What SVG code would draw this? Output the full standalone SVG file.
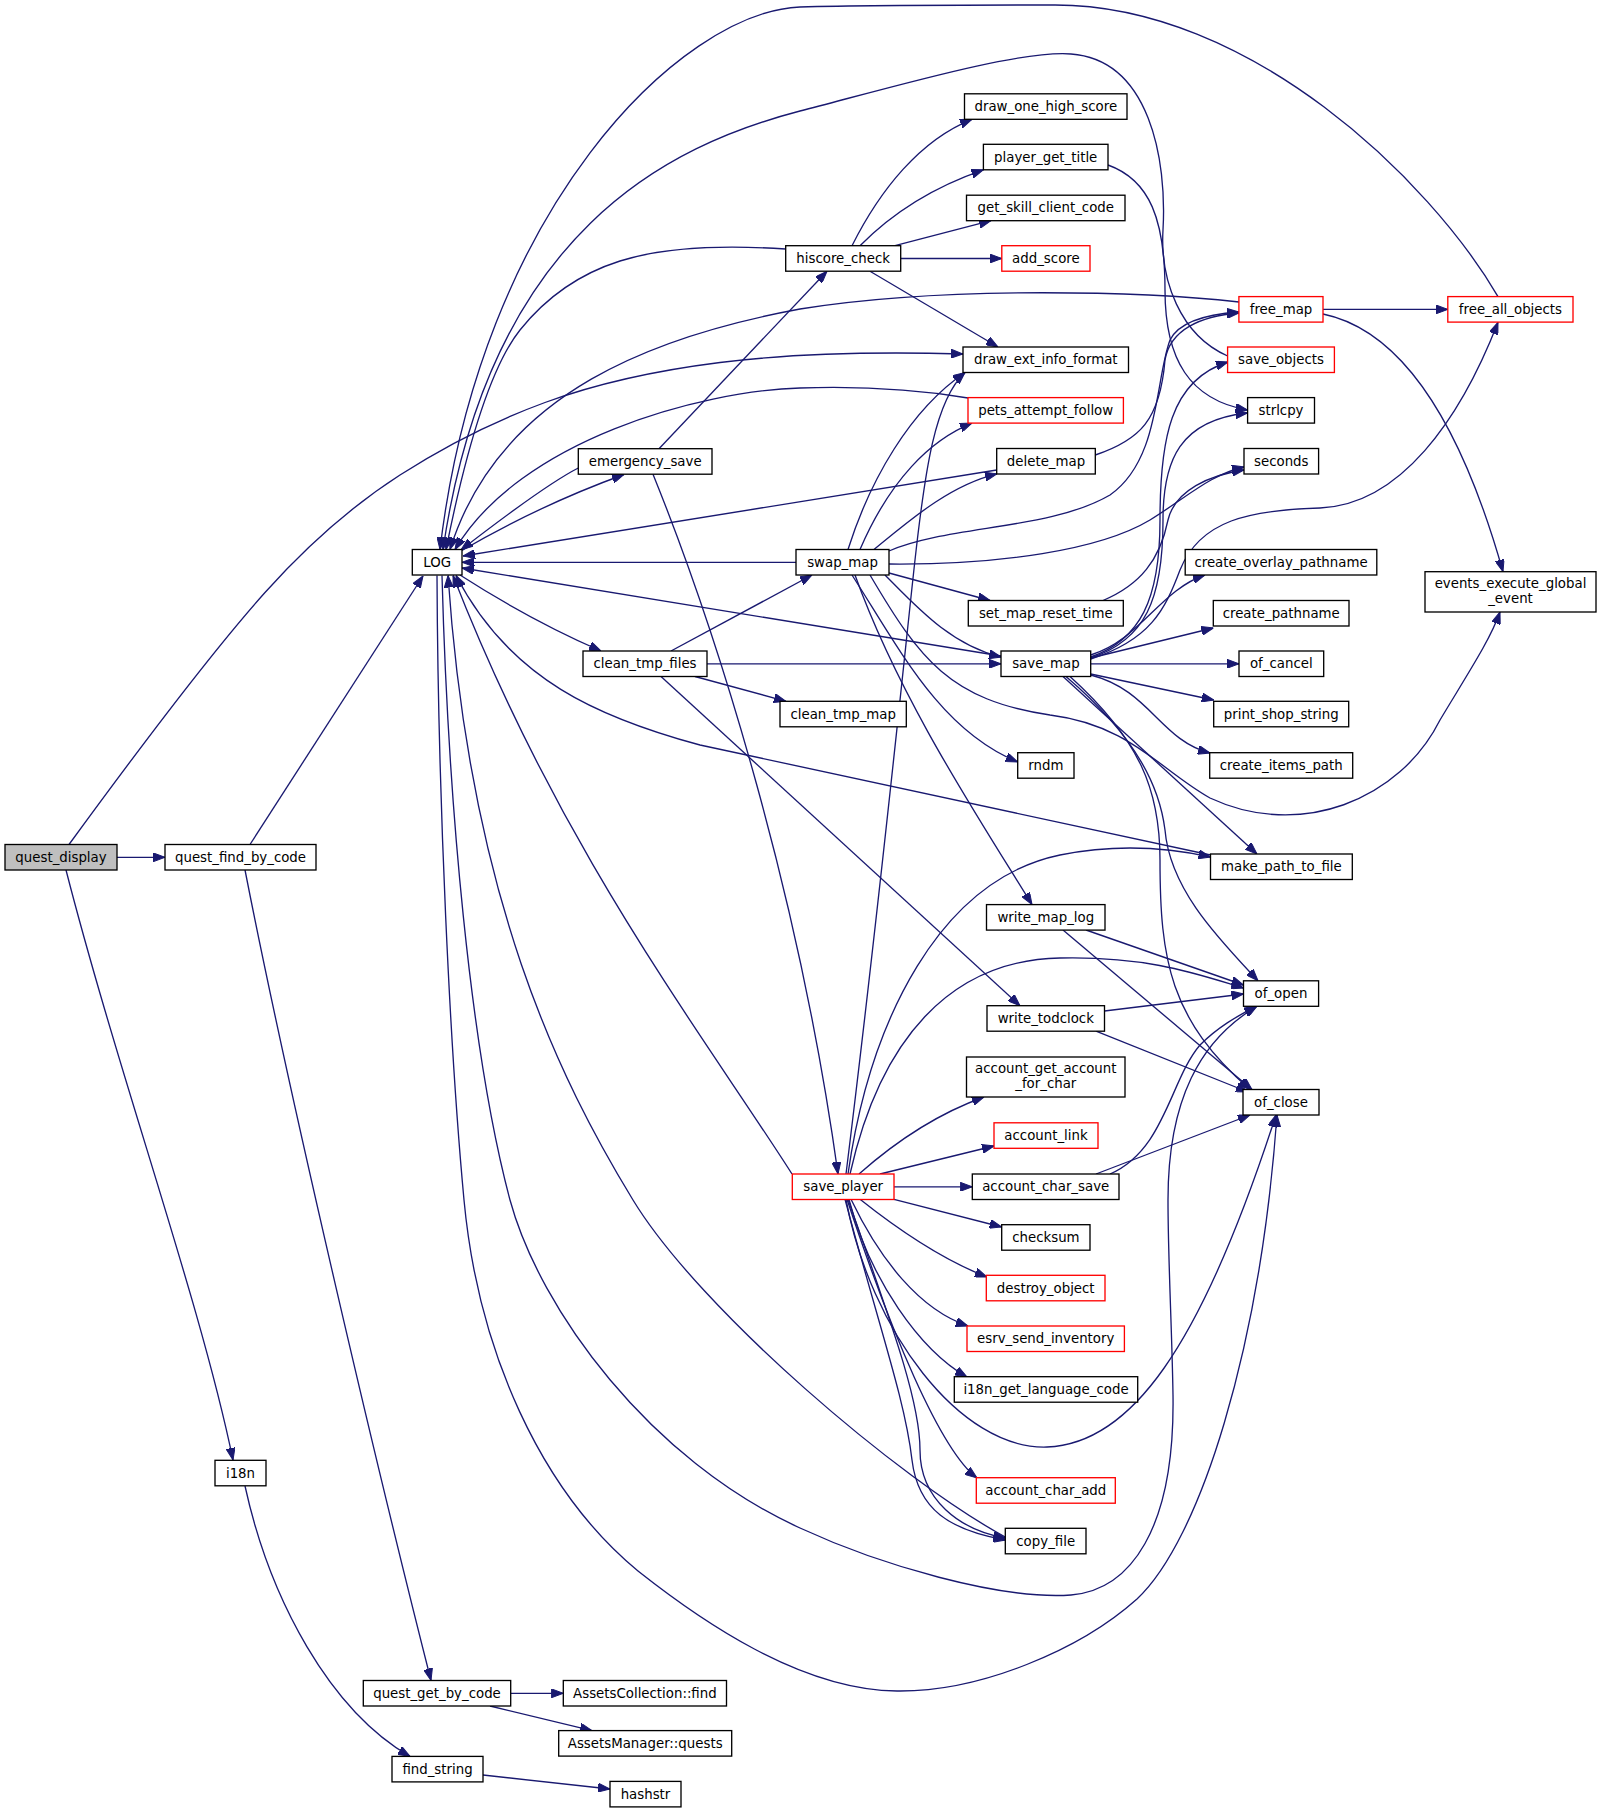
<svg xmlns="http://www.w3.org/2000/svg" width="1601" height="1813" viewBox="0 0 1601 1813">
<style>
.n rect{fill:#fff;stroke:#000;stroke-width:1.33}
.n.r rect{stroke:#f00}
.n.root rect{fill:#bfbfbf}
.n text{font-family:"DejaVu Sans","Liberation Sans",sans-serif;font-size:13.33px;text-anchor:middle;fill:#000}
#edges path{fill:none;stroke:#191970;stroke-width:1.33;marker-end:url(#ah)}
</style>
<defs>
<marker id="ah" markerWidth="12" markerHeight="9" refX="12" refY="4.5" orient="auto" markerUnits="userSpaceOnUse">
<path d="M0,0 L12,4.5 L0,9 z" fill="#191970" stroke="#191970" stroke-width="1"/>
</marker>
</defs>
<rect x="0" y="0" width="1601" height="1813" fill="#fff"/>
<g id="edges">
<path d="M117,857.3 L165,857.3"/>
<path d="M69,844.5 Q200,665 265,592.5 Q330,520 400,475 Q470,430 545,402.5 Q620,375 720,362.5 Q820,350 963,354"/>
<path d="M66,870 C120,1080 200,1300 233,1460"/>
<path d="M250,844.5 L423,576"/>
<path d="M245,870 C290,1100 380,1480 431,1680.5"/>
<path d="M245,1486 C270,1600 330,1710 410,1756.4"/>
<path d="M510.7,1693.3 L563.3,1693.3"/>
<path d="M490,1706 L592,1730.6"/>
<path d="M483,1775 L610,1789"/>
<path d="M461,551 Q540,505 624,474.5"/>
<path d="M578.3,468 Q545,485 461,550"/>
<path d="M460,575 Q530,620 601,651"/>
<path d="M785.7,249 Q680,242 620,261 Q560,280 520,330 Q480,380 446,549.5"/>
<path d="M1498,296.6 C1430,180 1250,5 1055,5 C950,5 870,5 800,7 C680,12 480,210 440,549.5"/>
<path d="M1227.6,356 C1180,335 1160,280 1163,230 C1167,160 1150,60 1071,54 C1020,50 900,85 800,111 C670,145 490,230 443,549.5"/>
<path d="M1239,302 C1150,292 950,285 800,309 C660,335 500,390 450,549.5"/>
<path d="M968,398 C920,390 860,386 800,388 C700,391 520,440 455,549.5"/>
<path d="M996.7,470 L463,556"/>
<path d="M796,562.3 L462,562.3"/>
<path d="M1001,656 L462,568"/>
<path d="M1210.5,855 L700,745 C600,718 510,680 456,575.5"/>
<path d="M792,1174 C700,1030 560,850 453,575.5"/>
<path d="M1005.3,1537 C900,1480 700,1310 633,1200 C560,1080 470,900 448,575.5"/>
<path d="M442,575.5 C448,800 470,1050 510,1200 C540,1310 650,1460 800,1528 C880,1565 1000,1600 1071,1595 C1130,1590 1175,1530 1173,1395 C1172,1330 1168,1260 1168,1200 C1168,1100 1200,1040 1257,1006.3"/>
<path d="M437,575.5 C438,800 450,1050 464,1200 C478,1350 540,1490 638,1571 C700,1620 800,1690 897,1691 C980,1692 1080,1650 1137,1599 C1200,1540 1260,1350 1277,1115"/>
<path d="M852,245.7 C880,190 920,140 972,119.3"/>
<path d="M860,245.7 Q910,195 983.4,169.8"/>
<path d="M895,245.7 L991,220.7"/>
<path d="M900.7,258.5 L1001.8,258.5"/>
<path d="M870,271.2 L998,347"/>
<path d="M659,448.7 L827,271.2"/>
<path d="M653,474.2 C720,640 800,900 838,1174"/>
<path d="M671,651 L812,575"/>
<path d="M707,663.8 L1001,663.8"/>
<path d="M695,676.5 L786,701.3"/>
<path d="M661,676.5 L1020,1005.7"/>
<path d="M848,549.5 C870,480 910,410 965,372.5"/>
<path d="M860,549.5 C890,480 930,440 972,423.1"/>
<path d="M874,549.5 C910,520 950,485 997,473.8"/>
<path d="M889,551 C950,525 1050,530 1110,495 C1160,460 1155,380 1170,340 C1180,320 1210,314 1239,312"/>
<path d="M1095.3,455 C1140,440 1160,420 1165,360 C1170,330 1200,316 1239,313"/>
<path d="M889,564 C1000,565 1100,550 1150,520 C1190,495 1210,475 1244,467"/>
<path d="M1103,600.5 C1140,585 1160,560 1168,520 C1175,490 1210,475 1244,470"/>
<path d="M889,573 L990,600.5"/>
<path d="M885,575 C915,605 950,645 1001,657"/>
<path d="M852,575 C900,650 940,730 1017.7,762"/>
<path d="M855,575 C900,700 980,820 1032,904.6"/>
<path d="M870,575 C920,660 950,700 1050,715 C1130,725 1160,770 1210,798 C1300,840 1400,800 1440,720 C1470,670 1490,640 1500,612"/>
<path d="M1323,309.4 L1447.8,309.4"/>
<path d="M1323,314 C1400,330 1460,420 1503,571.7"/>
<path d="M1090.7,655 C1140,640 1160,590 1205,575"/>
<path d="M1090.7,658 L1213.3,628"/>
<path d="M1090.7,663.8 L1239,663.8"/>
<path d="M1090.7,674 L1213.7,700"/>
<path d="M1090.7,675 C1150,690 1160,740 1210,753"/>
<path d="M1063,676.5 L1257,854"/>
<path d="M1066,676.5 C1140,740 1160,790 1165,830 C1170,890 1220,940 1258,980.8"/>
<path d="M1070,676.5 C1140,740 1160,790 1160,860 C1160,960 1170,1020 1250,1089.5"/>
<path d="M1090.7,657 C1140,640 1160,600 1160,520 C1160,440 1170,380 1228,362"/>
<path d="M1090.7,658 C1145,640 1163,600 1163,520 C1163,460 1180,420 1247.6,413"/>
<path d="M1090.7,659 C1150,640 1165,610 1180,570 C1200,520 1250,510 1320,508 C1400,505 1460,420 1498,322.3"/>
<path d="M1086,930 L1243.5,985"/>
<path d="M1063,930 L1252,1089.5"/>
<path d="M1104.5,1011 L1243.5,994"/>
<path d="M1096,1031.2 L1248,1092"/>
<path d="M1110,1174 C1165,1150 1170,1080 1200,1045 C1220,1025 1240,1015 1256,1006.3"/>
<path d="M1096,1174 L1250,1115"/>
<path d="M894,1186.8 L972.3,1186.8"/>
<path d="M894,1199.3 L1001.7,1227"/>
<path d="M860,1199.3 Q930,1255 987,1277"/>
<path d="M851,1199.3 C880,1260 920,1310 968,1326"/>
<path d="M849,1199.3 C870,1280 920,1350 967,1377"/>
<path d="M847,1199.3 C890,1330 940,1450 977,1478"/>
<path d="M848,1199.3 C890,1320 920,1400 920,1450 C920,1500 960,1530 1005.3,1538"/>
<path d="M845,1199.3 C880,1330 905,1400 912,1460 C918,1510 950,1530 1005.3,1540"/>
<path d="M846,1199.3 C870,1330 960,1450 1047,1447 C1130,1444 1200,1350 1276,1115"/>
<path d="M846,1174 C880,900 905,650 915,560 C925,470 935,400 965,372.5"/>
<path d="M850,1174 C880,1040 950,960 1060,958 C1150,956 1200,975 1243.5,988"/>
<path d="M848,1174 C870,1020 940,880 1060,855 C1120,843 1170,848 1210.5,857"/>
<path d="M859,1174 Q920,1120 984,1097"/>
<path d="M880,1174 L994,1146"/>
<path d="M1108,165 C1150,180 1165,220 1165,290 C1165,360 1190,400 1247.6,410"/>
</g>
<g id="n_quest_display" class="n root"><rect x="5" y="844.5" width="112" height="25.5"/><text x="61" y="861.7">quest_display</text></g>
<g id="n_quest_find_by_code" class="n"><rect x="165" y="844.5" width="151" height="25.5"/><text x="240.5" y="861.7">quest_find_by_code</text></g>
<g id="n_i18n" class="n"><rect x="215" y="1460.3" width="51" height="25.5"/><text x="240.5" y="1477.5">i18n</text></g>
<g id="n_quest_get_by_code" class="n"><rect x="363.3" y="1680.5" width="147.4" height="25.5"/><text x="437" y="1697.7">quest_get_by_code</text></g>
<g id="n_find_string" class="n"><rect x="392" y="1756.4" width="91" height="25.5"/><text x="437.5" y="1773.6">find_string</text></g>
<g id="n_assetscollection_find" class="n"><rect x="563.3" y="1680.5" width="163.2" height="25.5"/><text x="644.9" y="1697.7">AssetsCollection::find</text></g>
<g id="n_assetsmanager_quests" class="n"><rect x="558.7" y="1730.6" width="173" height="25.5"/><text x="645.2" y="1747.8">AssetsManager::quests</text></g>
<g id="n_hashstr" class="n"><rect x="610" y="1781.4" width="71" height="25.5"/><text x="645.5" y="1798.6">hashstr</text></g>
<g id="n_log" class="n"><rect x="412.3" y="549.5" width="49.7" height="25.5"/><text x="437.2" y="566.7">LOG</text></g>
<g id="n_emergency_save" class="n"><rect x="578.3" y="448.7" width="133.7" height="25.5"/><text x="645.2" y="465.9">emergency_save</text></g>
<g id="n_clean_tmp_files" class="n"><rect x="583" y="651" width="124" height="25.5"/><text x="645" y="668.2">clean_tmp_files</text></g>
<g id="n_hiscore_check" class="n"><rect x="785.7" y="245.7" width="115" height="25.5"/><text x="843.2" y="262.9">hiscore_check</text></g>
<g id="n_swap_map" class="n"><rect x="796" y="549.5" width="93" height="25.5"/><text x="842.5" y="566.7">swap_map</text></g>
<g id="n_save_player" class="n r"><rect x="792.3" y="1174" width="101.7" height="25.5"/><text x="843.2" y="1191.2">save_player</text></g>
<g id="n_clean_tmp_map" class="n"><rect x="780" y="701.3" width="126.3" height="25.5"/><text x="843.2" y="718.5">clean_tmp_map</text></g>
<g id="n_draw_one_high_score" class="n"><rect x="964.5" y="93.8" width="162.5" height="25.5"/><text x="1045.8" y="111">draw_one_high_score</text></g>
<g id="n_player_get_title" class="n"><rect x="983.4" y="144.3" width="124.6" height="25.5"/><text x="1045.7" y="161.5">player_get_title</text></g>
<g id="n_get_skill_client_code" class="n"><rect x="966.5" y="195.2" width="158.5" height="25.5"/><text x="1045.8" y="212.4">get_skill_client_code</text></g>
<g id="n_add_score" class="n r"><rect x="1001.8" y="245.7" width="88.2" height="25.5"/><text x="1045.9" y="262.9">add_score</text></g>
<g id="n_draw_ext_info_format" class="n"><rect x="963" y="347" width="165.5" height="25.5"/><text x="1045.8" y="364.2">draw_ext_info_format</text></g>
<g id="n_pets_attempt_follow" class="n r"><rect x="968" y="397.6" width="155.4" height="25.5"/><text x="1045.7" y="414.8">pets_attempt_follow</text></g>
<g id="n_delete_map" class="n"><rect x="996.7" y="448.5" width="98.6" height="25.5"/><text x="1046" y="465.7">delete_map</text></g>
<g id="n_set_map_reset_time" class="n"><rect x="968.3" y="600.5" width="155" height="25.5"/><text x="1045.8" y="617.7">set_map_reset_time</text></g>
<g id="n_save_map" class="n"><rect x="1001" y="651" width="89.7" height="25.5"/><text x="1045.9" y="668.2">save_map</text></g>
<g id="n_rndm" class="n"><rect x="1017.7" y="752.7" width="56.3" height="25.5"/><text x="1045.9" y="769.9">rndm</text></g>
<g id="n_write_map_log" class="n"><rect x="986.5" y="904.6" width="118.5" height="25.5"/><text x="1045.8" y="921.8">write_map_log</text></g>
<g id="n_write_todclock" class="n"><rect x="987" y="1005.7" width="117.5" height="25.5"/><text x="1045.8" y="1022.9">write_todclock</text></g>
<g id="n_account_get_account_for_char" class="n"><rect x="966.5" y="1057" width="158.5" height="40"/><text x="1045.8" y="1073">account_get_account</text><text x="1045.8" y="1088">_for_char</text></g>
<g id="n_account_link" class="n r"><rect x="994" y="1122.8" width="104" height="25.5"/><text x="1046" y="1140">account_link</text></g>
<g id="n_account_char_save" class="n"><rect x="972.3" y="1174" width="146.7" height="25.5"/><text x="1045.7" y="1191.2">account_char_save</text></g>
<g id="n_checksum" class="n"><rect x="1001.7" y="1224.7" width="88.3" height="25.5"/><text x="1045.9" y="1241.9">checksum</text></g>
<g id="n_destroy_object" class="n r"><rect x="986.3" y="1275.3" width="118.7" height="25.5"/><text x="1045.7" y="1292.5">destroy_object</text></g>
<g id="n_esrv_send_inventory" class="n r"><rect x="967" y="1326" width="157.4" height="25.5"/><text x="1045.7" y="1343.2">esrv_send_inventory</text></g>
<g id="n_i18n_get_language_code" class="n"><rect x="954.3" y="1376.7" width="183.4" height="25.5"/><text x="1046" y="1393.9">i18n_get_language_code</text></g>
<g id="n_account_char_add" class="n r"><rect x="976.3" y="1477.7" width="139" height="25.5"/><text x="1045.8" y="1494.9">account_char_add</text></g>
<g id="n_copy_file" class="n"><rect x="1005.3" y="1528.3" width="80.7" height="25.5"/><text x="1045.7" y="1545.5">copy_file</text></g>
<g id="n_free_map" class="n r"><rect x="1238.9" y="296.6" width="84.1" height="25.5"/><text x="1281" y="313.8">free_map</text></g>
<g id="n_save_objects" class="n r"><rect x="1227.6" y="347" width="106.8" height="25.5"/><text x="1281" y="364.2">save_objects</text></g>
<g id="n_strlcpy" class="n"><rect x="1247.6" y="397.6" width="66.9" height="25.5"/><text x="1281" y="414.8">strlcpy</text></g>
<g id="n_seconds" class="n"><rect x="1244" y="448.5" width="74.6" height="25.5"/><text x="1281.3" y="465.7">seconds</text></g>
<g id="n_create_overlay_pathname" class="n"><rect x="1185.2" y="549.5" width="191.6" height="25.5"/><text x="1281" y="566.7">create_overlay_pathname</text></g>
<g id="n_create_pathname" class="n"><rect x="1213.3" y="600.5" width="135.7" height="25.5"/><text x="1281.2" y="617.7">create_pathname</text></g>
<g id="n_of_cancel" class="n"><rect x="1239" y="651" width="84.7" height="25.5"/><text x="1281.3" y="668.2">of_cancel</text></g>
<g id="n_print_shop_string" class="n"><rect x="1213.7" y="701.3" width="135" height="25.5"/><text x="1281.2" y="718.5">print_shop_string</text></g>
<g id="n_create_items_path" class="n"><rect x="1209.7" y="752.7" width="143" height="25.5"/><text x="1281.2" y="769.9">create_items_path</text></g>
<g id="n_make_path_to_file" class="n"><rect x="1210.5" y="854" width="141.8" height="25.5"/><text x="1281.4" y="871.2">make_path_to_file</text></g>
<g id="n_of_open" class="n"><rect x="1243.5" y="980.8" width="75.1" height="25.5"/><text x="1281" y="998">of_open</text></g>
<g id="n_of_close" class="n"><rect x="1243" y="1089.5" width="76" height="25.5"/><text x="1281" y="1106.7">of_close</text></g>
<g id="n_free_all_objects" class="n r"><rect x="1447.8" y="296.6" width="125.2" height="25.5"/><text x="1510.4" y="313.8">free_all_objects</text></g>
<g id="n_events_execute_global_event" class="n"><rect x="1425" y="571.7" width="171" height="40.3"/><text x="1510.5" y="588">events_execute_global</text><text x="1510.5" y="603">_event</text></g>
</svg>
